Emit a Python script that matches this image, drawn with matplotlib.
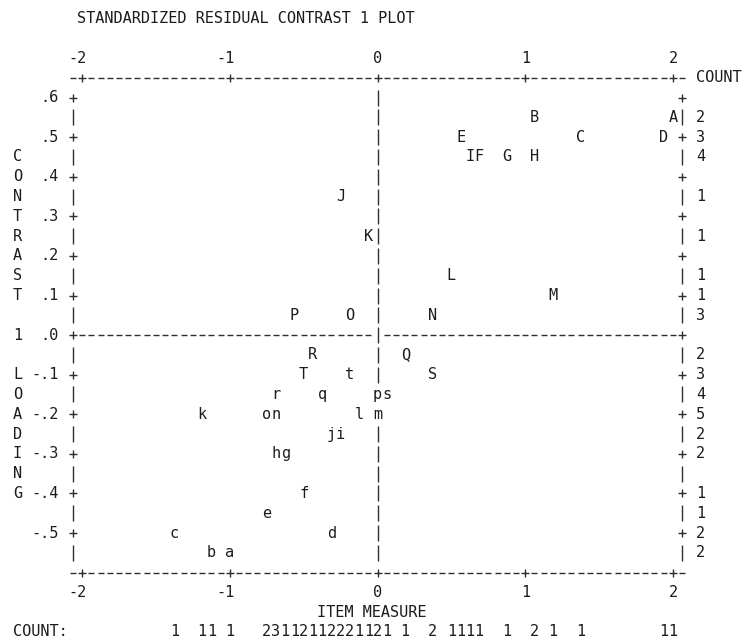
import matplotlib
matplotlib.use("Agg")
import matplotlib.pyplot as plt
from collections import Counter

# ---------------- data ----------------
TITLE = "STANDARDIZED RESIDUAL CONTRAST 1 PLOT"
X_LABEL = "ITEM MEASURE"
Y_LABEL = "CONTRAST 1 LOADING"
COUNT_HEADER = "COUNT"
COUNT_ROW_LABEL = "COUNT:"

item_labels = ["A", "B", "C", "D", "E", "F", "G", "H", "I", "J",
               "K", "L", "M", "N", "O", "P", "Q", "R", "S", "T",
               "a", "b", "c", "d", "e", "f", "g", "h", "i", "j",
               "k", "l", "m", "n", "o", "p", "q", "r", "s", "t"]
item_measures = [2.00, 1.06, 1.38, 1.94, 0.56, 0.69, 0.88, 1.06, 0.63, -0.25,
                 -0.06, 0.50, 1.19, 0.38, -0.19, -0.56, 0.19, -0.44, 0.38, -0.50,
                 -1.00, -1.13, -1.38, -0.31, -0.75, -0.50, -0.63, -0.69, -0.25, -0.31,
                 -1.19, -0.13, 0.00, -0.69, -0.75, 0.00, -0.38, -0.69, 0.06, -0.19]
item_loadings = [0.55, 0.55, 0.50, 0.50, 0.50, 0.45, 0.45, 0.45, 0.45, 0.35,
                 0.25, 0.15, 0.10, 0.05, 0.05, 0.05, -0.05, -0.05, -0.10, -0.10,
                 -0.55, -0.55, -0.50, -0.50, -0.45, -0.40, -0.30, -0.30, -0.25, -0.25,
                 -0.20, -0.20, -0.20, -0.20, -0.20, -0.15, -0.15, -0.15, -0.15, -0.10]

x_ticks = [-2, -1, 0, 1, 2]
x_tick_labels = ["-2", "-1", "0", "1", "2"]
y_ticks = [0.6, 0.5, 0.4, 0.3, 0.2, 0.1, 0.0, -0.1, -0.2, -0.3, -0.4, -0.5]
y_tick_labels = [".6", ".5", ".4", ".3", ".2", ".1", ".0",
                 "-.1", "-.2", "-.3", "-.4", "-.5"]

# ---------------- text-grid geometry ----------------
W_PX, H_PX, DPI = 743, 640, 100
COLS_PER_UNIT = 16          # character columns per logit
LOAD_PER_ROW = 0.05         # loading per text row
X_PX_PER_UNIT = 147.7
X_ZERO_PX = 377.5
Y_PX_PER_UNIT = 395.8
Y_ZERO_PX = 335.1

FONT = "DejaVu Sans Mono"
FS = 11
TXT = "#1c1c1c"
LINE = "#2e2e2e"

HALF = 0.5 / COLS_PER_UNIT


def cx(c):
    """x (measure) of character column c (col 0 is measure -2)."""
    return x_ticks[0] + c / COLS_PER_UNIT


def ry(r):
    """y (loading) of text row r (row 4 is loading .6)."""
    return y_ticks[0] - LOAD_PER_ROW * (r - 4)


def col_of(x):
    return int(round((x - x_ticks[0]) * COLS_PER_UNIT))


def row_of(y):
    return int(round(4 + (y_ticks[0] - y) / LOAD_PER_ROW))


fig = plt.figure(figsize=(W_PX / DPI, H_PX / DPI), dpi=DPI)
ax = fig.add_axes([0, 0, 1, 1])
ax.set_xlim(-X_ZERO_PX / X_PX_PER_UNIT, (W_PX - X_ZERO_PX) / X_PX_PER_UNIT)
ax.set_ylim((Y_ZERO_PX - H_PX) / Y_PX_PER_UNIT, Y_ZERO_PX / Y_PX_PER_UNIT)
ax.axis("off")

tkw = dict(fontfamily=FONT, fontsize=FS, color=TXT)

col_lo = col_of(x_ticks[0]) - 1      # left frame column
col_hi = col_of(x_ticks[-1]) + 1     # right frame column
col_mid = col_of(0)
row_top = row_of(y_ticks[0]) - 1     # top dashed row
row_bot = row_of(y_ticks[-1]) + 2    # bottom dashed row
row_zero = row_of(0.0)
tick_cols = [col_of(t) for t in x_ticks]

# item letters snapped to the character grid
item_cells = [(col_of(m), row_of(l)) for m, l in zip(item_measures, item_loadings)]
occupied = set(item_cells)
for lab, (c, r) in zip(item_labels, item_cells):
    ax.text(cx(c), ry(r), lab, ha="center", va="center", **tkw)

# ---------------- frame (dashes, pluses, bars) ----------------
dash_x, dash_y, plus_x, plus_y, bar_x, bar_y = [], [], [], [], [], []
for r in (row_top, row_bot):
    for c in range(col_lo, col_hi + 1):
        if c in tick_cols:
            plus_x.append(cx(c)); plus_y.append(ry(r))
        else:
            dash_x.append(cx(c)); dash_y.append(ry(r))
for c in range(col_lo + 1, col_hi):
    if c != col_mid:
        dash_x.append(cx(c)); dash_y.append(ry(row_zero))
for r in range(row_top + 1, row_bot):
    for c in (col_lo, col_hi):
        if (r - row_top) % 2 == 1:
            plus_x.append(cx(c)); plus_y.append(ry(r))
        else:
            bar_x.append(cx(c)); bar_y.append(ry(r))
    if (col_mid, r) not in occupied:
        bar_x.append(cx(col_mid)); bar_y.append(ry(r))

ax.plot(dash_x, dash_y, ls="none", marker="_", ms=3.8, mew=1.0, color=LINE)
ax.plot(plus_x, plus_y, ls="none", marker="+", ms=5.6, mew=1.0, color=LINE)
ax.plot(bar_x, bar_y, ls="none", marker="|", ms=11.5, mew=1.0, color=LINE)

# ---------------- tick labels ----------------
for t, lab in zip(x_ticks, x_tick_labels):
    c = col_of(t)
    for r in (row_top - 1, row_bot + 1):
        ax.text(cx(c) + HALF, ry(r), lab, ha="right", va="center", **tkw)

for t, lab in zip(y_ticks, y_tick_labels):
    ax.text(cx(col_lo - 2) + HALF, ry(row_of(t)), lab, ha="right", va="center", **tkw)

# vertical axis title, one letter per row
y_label_rows = range(row_of(0.45), row_of(0.45) + len(Y_LABEL))
for ch, r in zip(Y_LABEL, y_label_rows):
    if ch != " ":
        ax.text(cx(col_lo - 6), ry(r), ch, ha="center", va="center", **tkw)

# title, axis title, count labels
ax.text(cx(0) - HALF, ry(0), TITLE, ha="left", va="center", **tkw)
ax.text(cx(col_mid - 6) - HALF, ry(row_bot + 2), X_LABEL, ha="left", va="center", **tkw)
ax.text(cx(col_hi + 2) - HALF, ry(row_top), COUNT_HEADER, ha="left", va="center", **tkw)
ax.text(cx(col_lo - 6) - HALF, ry(row_bot + 3), COUNT_ROW_LABEL, ha="left", va="center", **tkw)

row_counts = Counter(r for _, r in item_cells)
for r, n in row_counts.items():
    ax.text(cx(col_hi + 2), ry(r), str(n), ha="center", va="center", **tkw)

col_counts = Counter(c for c, _ in item_cells)
for c, n in col_counts.items():
    ax.text(cx(c), ry(row_bot + 3), str(n), ha="center", va="center", **tkw)

fig.savefig("out.png", dpi=DPI, facecolor="white")
